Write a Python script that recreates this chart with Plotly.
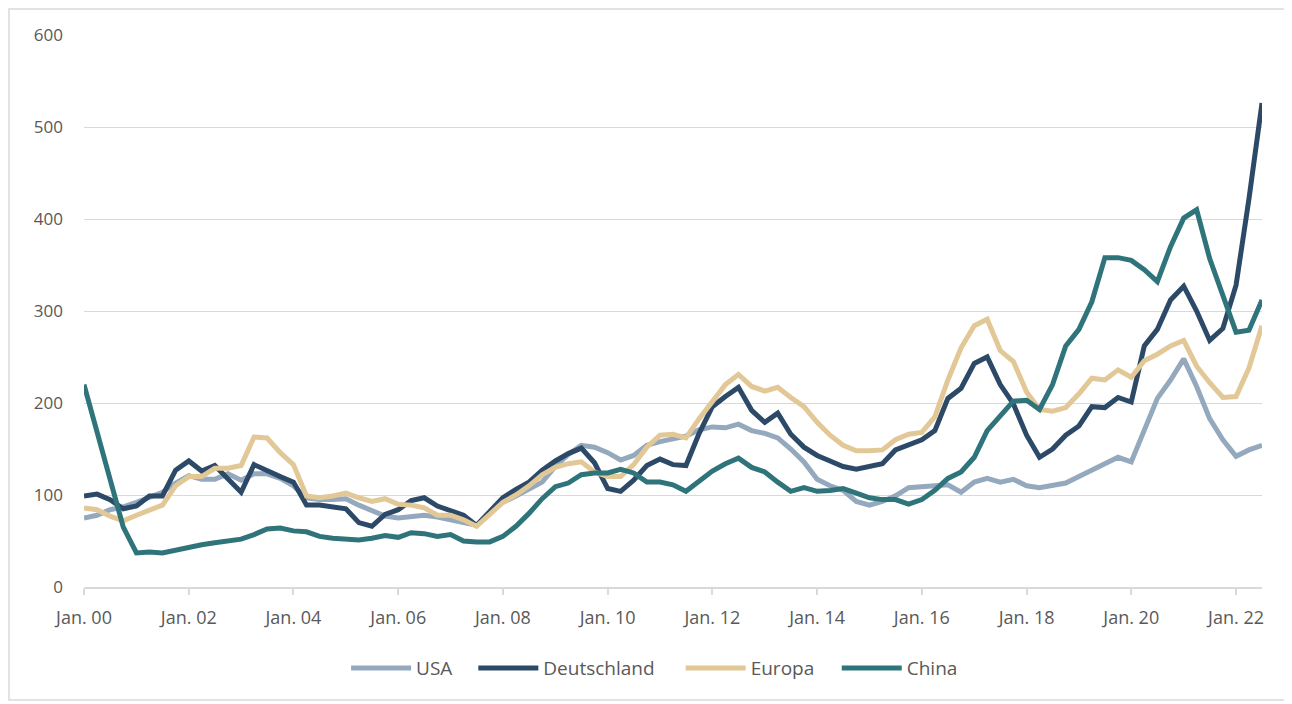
import pandas as pd
import plotly.graph_objects as go

# Quartalswerte Jan. 2000 bis Jul. 2022
dates = pd.date_range("2000-01-01", "2022-07-01", freq="QS")

usa = [
    75, 78, 84, 87, 92, 98, 103, 113, 121, 117, 117, 123,
    116, 123, 123, 118, 110, 97, 95, 95, 96, 89, 83, 77,
    75, 76, 78, 76, 73, 71, 67, 81, 92, 99, 106, 114,
    131, 144, 154, 152, 146, 138, 143, 154, 158, 161, 164, 171,
    174, 173, 177, 170, 167, 162, 150, 136, 117, 110, 105, 93,
    89, 93, 99, 108, 109, 111, 111, 103, 114, 118, 114, 117,
    110, 108, 110, 113, 120, 127, 133, 141, 136, 170, 205, 225,
    248, 218, 183, 160, 142, 149, 154,
]
deutschland = [
    99, 101, 95, 85, 88, 99, 99, 127, 137, 126, 132, 118,
    103, 133, 126, 120, 114, 89, 89, 87, 85, 70, 66, 79,
    84, 94, 97, 88, 83, 78, 67, 82, 97, 106, 114, 127,
    137, 145, 151, 135, 107, 104, 116, 132, 139, 133, 132, 167,
    196, 207, 217, 192, 179, 189, 166, 152, 143, 137, 131, 128,
    131, 134, 149, 155, 160, 170, 205, 216, 243, 250, 220, 199,
    165, 141, 150, 165, 175, 196, 195, 206, 201, 262, 280, 312,
    327, 300, 268, 281, 328, 422, 526,
]
europa = [
    86, 84, 77, 72, 78, 84, 89, 110, 120, 120, 129, 129,
    132, 163, 162, 146, 133, 99, 97, 99, 102, 97, 93, 96,
    90, 89, 86, 78, 78, 73, 66, 79, 92, 100, 110, 122,
    130, 134, 136, 125, 120, 120, 133, 152, 165, 166, 162, 183,
    201, 220, 231, 218, 213, 217, 206, 196, 179, 165, 154, 148,
    148, 149, 160, 166, 168, 185, 225, 260, 284, 291, 257, 245,
    212, 193, 191, 195, 210, 227, 225, 236, 228, 246, 253, 262,
    268, 240, 222, 206, 207, 238, 284,
]
china = [
    220, 168, 120, 65, 37, 38, 37, 40, 44, 46, 48, 50,
    52, 57, 63, 64, 61, 60, 55, 53, 52, 51, 53, 56,
    54, 59, 58, 55, 57, 50, 49, 49, 55, 66, 80, 96,
    109, 113, 122, 124, 124, 128, 124, 114, 114, 111, 104, 115,
    126, 134, 140, 130, 125, 114, 104, 108, 104, 105, 107, 102,
    97, 95, 95, 90, 95, 105, 118, 125, 141, 170, 185, 202,
    203, 193, 220, 262, 280, 310, 358, 358, 355, 345, 332, 370,
    401, 410, 357, 315, 277, 279, 312,
]

series = [
    ("USA", usa, "#94a9bd"),
    ("Deutschland", deutschland, "#2c4a68"),
    ("Europa", europa, "#e2c797"),
    ("China", china, "#2f747a"),
]
# Position der Legendeneinträge (Papierkoordinaten)
legend_x = [0.2225, 0.3305, 0.5065, 0.639]

tick_dates = pd.date_range("2000-01-01", "2022-01-01", freq="24MS")
tick_text = ["Jan. %02d" % (d.year % 100) for d in tick_dates]

fig = go.Figure()
legends = {}
for i, (name, values, color) in enumerate(series):
    key = "legend" if i == 0 else "legend%d" % (i + 1)
    fig.add_trace(go.Scatter(
        x=dates, y=values, name=name, mode="lines",
        line=dict(color=color, width=5), legend=key,
    ))
    legends[key] = dict(
        x=legend_x[i], xanchor="left", y=-0.147, yanchor="middle",
        font=dict(size=19, color="#595959"), itemwidth=60,
        bgcolor="rgba(0,0,0,0)",
    )

# body margin of the page is 8px, so margins are shifted by 8
fig.update_layout(
    width=1292, height=704,
    margin=dict(l=76, r=38, t=27, b=125),
    plot_bgcolor="white", paper_bgcolor="white",
    font=dict(family="Open Sans", size=17, color="#595959"),
    showlegend=True,
    xaxis=dict(
        range=[dates[0], dates[-1]],
        tickvals=tick_dates, ticktext=tick_text,
        showgrid=False, showline=True, linecolor="#d9d9d9", linewidth=1.5,
        ticks="outside", ticklen=6, tickcolor="#d9d9d9", tickwidth=1.5,
        zeroline=False, ticklabelstandoff=8, tickfont=dict(size=18),
    ),
    yaxis=dict(
        range=[0, 600], tickvals=[0, 100, 200, 300, 400, 500, 600],
        showgrid=True, gridcolor="#d9d9d9", gridwidth=1.2,
        zeroline=False, showline=False, ticklabelstandoff=20,
    ),
    shapes=[dict(
        type="rect", xref="paper", yref="paper",
        x0=-0.0637, x1=1.0212, y0=-0.2047, y1=1.047,
        line=dict(color="#d9d9d9", width=1.5), fillcolor="rgba(0,0,0,0)",
    )],
    **legends,
)

fig.write_html("out.html")
